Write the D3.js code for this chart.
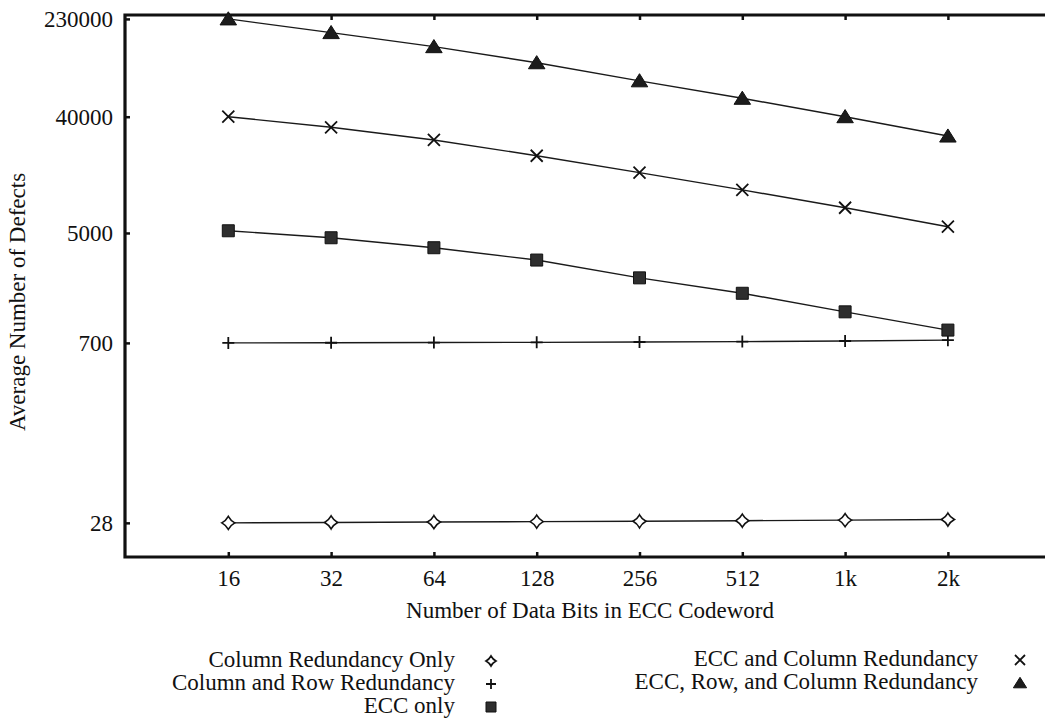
<!DOCTYPE html>
<html>
<head>
<meta charset="utf-8">
<script src="https://cdn.jsdelivr.net/npm/d3@7"></script>
<style>
body { margin: 0; background: #fff; }
text { font-family: "Liberation Serif", "Times New Roman", serif; fill: #111; }
</style>
</head>
<body>
<svg id="chart" width="1045" height="719"></svg>
<script>
// values
var bits = [16, 32, 64, 128, 256, 512, 1024, 2048];
var bitLabels = ["16", "32", "64", "128", "256", "512", "1k", "2k"];
var yTicks = [28, 700, 5000, 40000, 230000];

var colOnly   = [28.0, 28.2, 28.4, 28.6, 28.8, 29.1, 29.4, 29.7];
var colRow    = [700, 702, 704, 707, 711, 716, 724, 735];
var eccOnly   = [5200, 4590, 3840, 3080, 2240, 1700, 1220, 880];
var eccCol    = [40000, 33100, 26400, 19900, 14700, 10800, 7850, 5590];
var eccRowCol = [230000, 180000, 140000, 105000, 76000, 55600, 40000, 28300];

var seriesNames = ["Column Redundancy Only", "Column and Row Redundancy", "ECC only",
                   "ECC and Column Redundancy", "ECC, Row, and Column Redundancy"];
var seriesMarks = ["star", "plus", "square", "cross", "triangle"];

var svg = d3.select("#chart");

var x = d3.scaleLog().base(2).domain([8, 4096]).range([125.5, 1050.7]);
var y = d3.scaleLog().domain([15.2, 246700]).range([557, 15]);

// marker shapes
function markPath(kind, s) {
    var h = s / 2;
    if (kind == "star") {
        var c = h * 0.35;
        return "M0," + (-h) + "Q" + c + "," + (-c) + " " + h + ",0Q" + c + "," + c + " 0," + h +
               "Q" + (-c) + "," + c + " " + (-h) + ",0Q" + (-c) + "," + (-c) + " 0," + (-h) + "Z";
    }
    if (kind == "plus") return "M" + (-h) + ",0H" + h + "M0," + (-h) + "V" + h;
    if (kind == "cross") return "M" + (-h) + "," + (-h) + "L" + h + "," + h + "M" + (-h) + "," + h + "L" + h + "," + (-h);
    if (kind == "square") return "M" + (-h) + "," + (-h) + "H" + h + "V" + h + "H" + (-h) + "Z";
    if (kind == "triangle") return "M0," + (-h * 0.95) + "L" + (h * 1.1) + "," + (h * 0.8) + "H" + (-h * 1.1) + "Z";
}

function drawMark(g, kind, cx, cy, s) {
    var p = g.append("path")
        .attr("transform", "translate(" + cx + "," + cy + ")")
        .attr("d", markPath(kind, s));
    if (kind == "star") p.attr("fill", "#fff").attr("stroke", "#111").attr("stroke-width", 1.6);
    else if (kind == "plus" || kind == "cross") p.attr("fill", "none").attr("stroke", "#111").attr("stroke-width", 1.8);
    else if (kind == "square") p.attr("fill", "#2e2e2e").attr("stroke", "#111").attr("stroke-width", 1);
    else p.attr("fill", "#1c1c1c").attr("stroke", "#111").attr("stroke-width", 1);
}

// axes (inward ticks)
svg.append("g")
    .attr("transform", "translate(125,0)")
    .call(d3.axisLeft(y).tickValues(yTicks).tickFormat(d3.format("d")).tickSize(-5).tickPadding(12));

svg.append("g")
    .attr("transform", "translate(0,557)")
    .call(d3.axisBottom(x).tickValues(bits).tickFormat(function(d, i) { return bitLabels[i]; })
        .tickSize(-5).tickPadding(13));

svg.append("g")
    .attr("transform", "translate(0,15)")
    .call(d3.axisTop(x).tickValues(bits).tickFormat("").tickSize(-5));

svg.selectAll(".domain").remove();
svg.selectAll(".tick line").attr("stroke", "#111").attr("stroke-width", 2.5);
svg.selectAll(".tick text").attr("font-size", 23).attr("fill", "#111");

// frame
svg.append("path")
    .attr("d", "M1045,15H125V557H1045")
    .attr("fill", "none")
    .attr("stroke", "#111")
    .attr("stroke-width", 3.2);

// series
var allSeries = [colOnly, colRow, eccOnly, eccCol, eccRowCol];
var line = d3.line()
    .x(function(d, i) { return x(bits[i]); })
    .y(function(d) { return y(d); });

var plot = svg.append("g");
allSeries.forEach(function(vals) {
    plot.append("path")
        .attr("d", line(vals))
        .attr("fill", "none")
        .attr("stroke", "#1a1a1a")
        .attr("stroke-width", 1.4);
});
allSeries.forEach(function(vals, k) {
    var size = seriesMarks[k] == "star" ? 13 : seriesMarks[k] == "triangle" ? 15 : 12;
    vals.forEach(function(v, i) {
        drawMark(plot, seriesMarks[k], x(bits[i]), y(v), size);
    });
});

// axis titles
svg.append("text")
    .attr("x", 590).attr("y", 618)
    .attr("text-anchor", "middle")
    .attr("font-size", 23)
    .text("Number of Data Bits in ECC Codeword");

svg.append("text")
    .attr("transform", "translate(25,302) rotate(-90)")
    .attr("text-anchor", "middle")
    .attr("font-size", 23)
    .text("Average Number of Defects");

// legend (baselines)
var legendRows = [
    { tx: 455, mx: 491, y: 667 },
    { tx: 455, mx: 491, y: 690 },
    { tx: 455, mx: 491, y: 713 },
    { tx: 978, mx: 1020, y: 666 },
    { tx: 978, mx: 1020, y: 689 }
];
var legend = svg.append("g");
legendRows.forEach(function(r, k) {
    legend.append("text")
        .attr("x", r.tx).attr("y", r.y)
        .attr("text-anchor", "end")
        .attr("font-size", 23)
        .text(seriesNames[k]);
    drawMark(legend, seriesMarks[k], r.mx, r.y - 6, seriesMarks[k] == "triangle" ? 12 : 10);
});
</script>
</body>
</html>
